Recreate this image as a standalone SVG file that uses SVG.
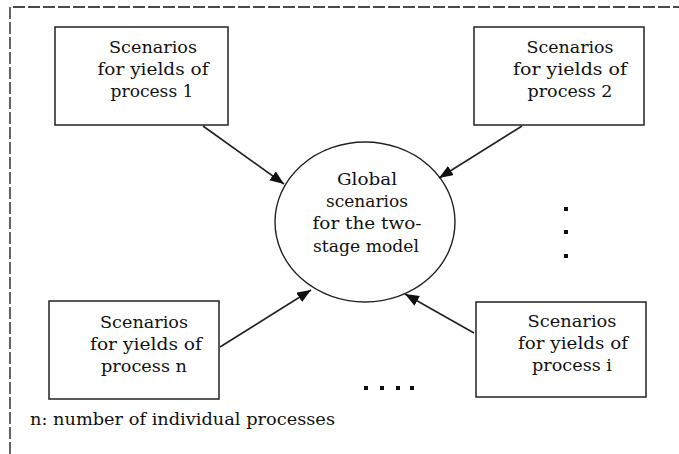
<svg xmlns="http://www.w3.org/2000/svg" width="679" height="454" viewBox="0 0 679 454">
<style>
.box{fill:#fff;stroke:#222;stroke-width:1.5}
.ell{fill:#fff;stroke:#222;stroke-width:1.4}
.t{font-family:"DejaVu Serif","Liberation Serif",serif;font-size:17.5px;fill:#111;text-anchor:middle}
.f{font-family:"DejaVu Serif","Liberation Serif",serif;font-size:17px;fill:#111}
.conn{stroke:#222;stroke-width:1.6;fill:none}
.dot{fill:#111}
</style>
<defs>
<marker id="ah" markerUnits="userSpaceOnUse" markerWidth="15" markerHeight="12" refX="14" refY="5.5" orient="auto">
<path d="M0,0 L14,5.5 L0,11 z" fill="#111"/>
</marker>
</defs>
<path d="M10,454 V7 H679" fill="none" stroke="#111" stroke-width="1.3" stroke-dasharray="12 3"/>
<g id="box1">
<rect class="box" x="55" y="27" width="173" height="98"/>
<text class="t" x="153" y="53" textLength="88" lengthAdjust="spacingAndGlyphs">Scenarios</text>
<text class="t" x="153" y="75" textLength="111" lengthAdjust="spacingAndGlyphs">for yields of</text>
<text class="t" x="152" y="97" textLength="83" lengthAdjust="spacingAndGlyphs">process 1</text>
</g>
<g id="box2">
<rect class="box" x="474" y="27" width="170" height="98"/>
<text class="t" x="570" y="53" textLength="87" lengthAdjust="spacingAndGlyphs">Scenarios</text>
<text class="t" x="570" y="75" textLength="114" lengthAdjust="spacingAndGlyphs">for yields of</text>
<text class="t" x="570" y="97" textLength="85" lengthAdjust="spacingAndGlyphs">process 2</text>
</g>
<g id="global">
<ellipse class="ell" cx="365" cy="222" rx="90" ry="80"/>
<text class="t" x="367" y="185" textLength="60" lengthAdjust="spacingAndGlyphs">Global</text>
<text class="t" x="367" y="207" textLength="82" lengthAdjust="spacingAndGlyphs">scenarios</text>
<text class="t" x="367" y="229" textLength="109" lengthAdjust="spacingAndGlyphs">for the two-</text>
<text class="t" x="366" y="252" textLength="106" lengthAdjust="spacingAndGlyphs">stage model</text>
</g>
<g id="boxn">
<rect class="box" x="49" y="301" width="170" height="98"/>
<text class="t" x="144" y="328" textLength="88" lengthAdjust="spacingAndGlyphs">Scenarios</text>
<text class="t" x="146" y="350" textLength="112" lengthAdjust="spacingAndGlyphs">for yields of</text>
<text class="t" x="144" y="372" textLength="86" lengthAdjust="spacingAndGlyphs">process n</text>
</g>
<g id="boxi">
<rect class="box" x="476" y="302" width="170" height="95"/>
<text class="t" x="572" y="327" textLength="89" lengthAdjust="spacingAndGlyphs">Scenarios</text>
<text class="t" x="573" y="349" textLength="110" lengthAdjust="spacingAndGlyphs">for yields of</text>
<text class="t" x="572" y="371" textLength="80" lengthAdjust="spacingAndGlyphs">process i</text>
</g>
<g id="connectors">
<line class="conn" x1="203" y1="126" x2="284" y2="184" marker-end="url(#ah)"/>
<line class="conn" x1="522" y1="126" x2="439" y2="178" marker-end="url(#ah)"/>
<line class="conn" x1="220" y1="347" x2="311" y2="290" marker-end="url(#ah)"/>
<line class="conn" x1="474" y1="333" x2="405" y2="294" marker-end="url(#ah)"/>
</g>
<g id="vdots">
<rect class="dot" x="564" y="207" width="4" height="4"/>
<rect class="dot" x="564" y="230" width="4" height="4"/>
<rect class="dot" x="564" y="254" width="4" height="4"/>
</g>
<g id="hdots">
<rect class="dot" x="364" y="386" width="4" height="4"/>
<rect class="dot" x="380" y="386" width="4" height="4"/>
<rect class="dot" x="396" y="386" width="4" height="4"/>
<rect class="dot" x="410" y="386" width="4" height="4"/>
</g>
<text class="f" x="30" y="425" textLength="305" lengthAdjust="spacingAndGlyphs">n: number of individual processes</text>
</svg>
